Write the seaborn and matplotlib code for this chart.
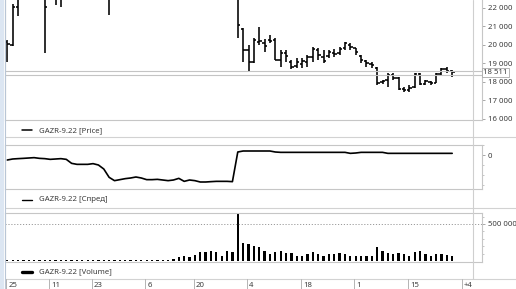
import numpy as np
import pandas as pd
import matplotlib
matplotlib.use("Agg")
import matplotlib.pyplot as plt
import seaborn as sns
from matplotlib.lines import Line2D
from matplotlib.patches import Rectangle
from matplotlib.ticker import FixedLocator, FuncFormatter, NullFormatter
import matplotlib.transforms as mtransforms

# ---------------- data ----------------
price_open = [20150, 20000, 22070, 22800, 23300, 23700, 23500, 23000, 22600, 23200,
              22800, 22700, 23100, 23500, 23800, 24000, 24400, 24600, 24700, 24300,
              22800, 23100, 23400, 23600, 23900, 24200, 24000, 23800, 24000, 24100,
              23900, 23800, 23500, 23700, 23400, 23300, 23100, 23000, 23300, 23500,
              23700, 23900, 24100, 24200, 20860, 19720, 19070, 20150, 20100, 20260,
              20260, 19180, 19560, 19070, 18850, 18960, 19070, 19340, 19720, 19340,
              19390, 19560, 19560, 19830, 19990, 19830, 19390, 19120, 18960, 18740,
              17970, 18090, 18360, 18200, 17600, 17550, 17710, 18420, 17880, 18000,
              17930, 18420, 18690, 18580]
price_high = [20260, 22200, 22900, 23500, 23900, 24200, 23800, 23300, 23400, 23600,
              23100, 23300, 23700, 24000, 24300, 24600, 24900, 25000, 25100, 24600,
              23300, 23600, 23800, 24100, 24400, 24500, 24300, 24200, 24400, 24300,
              24200, 24000, 23900, 24000, 23700, 23600, 23400, 23500, 23700, 23900,
              24100, 24300, 24500, 24300, 20900, 19990, 20370, 20960, 20320, 20530,
              20370, 19720, 19720, 19180, 19280, 19280, 19450, 19880, 19830, 19720,
              19720, 19770, 19880, 20150, 20100, 19830, 19450, 19180, 19070, 18800,
              18090, 18470, 18470, 18250, 17710, 17820, 18470, 18470, 18090, 18040,
              18470, 18740, 18800, 18630]
price_low = [19070, 19950, 21565, 22600, 22900, 23300, 22800, 19560, 22500, 22160,
             22050, 22550, 22900, 23200, 23500, 23800, 24100, 24300, 24300, 21620,
             22600, 22900, 23100, 23300, 23700, 23800, 23600, 23500, 23700, 23700,
             23600, 23300, 23200, 23300, 23000, 22900, 22700, 22800, 23000, 23200,
             23400, 23600, 23800, 20370, 19067, 18525, 19010, 19990, 19610, 20100,
             19170, 18800, 19070, 18690, 18740, 18740, 18800, 19070, 19180, 19010,
             19290, 19340, 19450, 19720, 19720, 19450, 19010, 18800, 18740, 17820,
             17870, 17710, 18090, 17550, 17440, 17440, 17660, 17820, 17820, 17820,
             17930, 18360, 18470, 18250]
price_close = [20040, 22070, 22700, 23300, 23700, 23500, 23000, 22050, 23200, 22800,
               22600, 23100, 23500, 23800, 24000, 24400, 24600, 24700, 24500, 22800,
               23100, 23400, 23600, 23900, 24200, 24000, 23800, 24000, 24100, 23900,
               23800, 23500, 23700, 23400, 23300, 23100, 23000, 23300, 23500, 23700,
               23900, 24100, 24300, 21080, 19720, 19070, 20260, 20210, 19940, 20210,
               19180, 19530, 19400, 18800, 19070, 19130, 19340, 19770, 19450, 19130,
               19610, 19500, 19770, 20100, 19880, 19610, 19180, 19010, 18900, 17920,
               18040, 18360, 18200, 17600, 17550, 17650, 18420, 17880, 18040, 17920,
               18420, 18690, 18580, 18511]

spread = [-1000, -800, -730, -670, -600, -530, -670, -730, -870, -800,
          -730, -870, -1670, -1870, -1870, -1870, -1730, -2000, -2800, -4470,
          -5130, -4930, -4730, -4600, -4400, -4600, -4930, -4930, -4870, -5000,
          -5130, -5000, -4670, -5270, -5000, -5130, -5400, -5400, -5330, -5270,
          -5270, -5270, -5330, 600, 800, 800, 800, 800, 800, 800,
          600, 530, 530, 530, 530, 530, 530, 530, 530, 530,
          530, 530, 530, 530, 330, 400, 530, 530, 530, 530,
          530, 330, 330, 330, 330, 330, 330, 330, 330, 330,
          330, 330, 330, 330]

volume = [12000, 9000, 15000, 11000, 8000, 10000, 13000, 9000, 12000, 10000,
          11000, 8000, 9000, 12000, 10000, 14000, 9000, 11000, 10000, 16000,
          12000, 10000, 9000, 11000, 13000, 10000, 12000, 11000, 14000, 13000,
          15000, 27000, 50000, 68000, 59000, 77000, 117000, 126000, 140000, 117000,
          63000, 131000, 115000, 644000, 239000, 230000, 207000, 194000, 140000, 99000,
          117000, 135000, 113000, 108000, 72000, 68000, 90000, 126000, 99000, 63000,
          90000, 90000, 113000, 90000, 72000, 63000, 72000, 68000, 68000, 185000,
          140000, 104000, 99000, 104000, 99000, 72000, 122000, 131000, 99000, 63000,
          99000, 99000, 77000, 72000]

date_tick_pos = [0, 8, 16, 26, 35, 45, 55, 65, 75, 85]
date_tick_labels = ["25", "11", "23", "6", "20", "4", "18", "1", "15", "+4"]

price_ticks = [16000, 17000, 18000, 19000, 20000, 21000, 22000]
spread_ticks = [0]
volume_ticks = [500000]

series_name = "GAZR-9.22"
panel_names = ["Price", "Спред", "Volume"]

# ---------------- style ----------------
sns.set_theme(style="white")
plt.rcParams['font.family'] = ['Noto Sans', 'DejaVu Sans']

W, H = 516, 289
fig = plt.figure(figsize=(W / 100, H / 100), dpi=100)
fig.patch.set_facecolor("white")

FRAME = "#c6c6c6"
SEP = "#d2d2d2"
LBL = "#3c3c3c"
FS = 5.6

def axes_px(top, bottom, left=5, right=482):
    return fig.add_axes([left / W, 1 - bottom / H, (right - left) / W, (bottom - top) / H])

# bar index -> pixel: x = 7.3 + 5.36 * i
X0, DX = 7.3, 5.36
xlim = ((5 - X0) / DX, (482 - X0) / DX)

n = len(price_close)
idx = np.arange(n)

def style_axes(ax, top_visible=True):
    ax.set_facecolor("white")
    for side, sp in ax.spines.items():
        sp.set_color(FRAME)
        sp.set_linewidth(0.8)
    ax.spines["top"].set_visible(top_visible)
    ax.set_xlim(*xlim)
    ax.set_xticks([])
    ax.set_xlabel("")
    ax.set_ylabel("")
    ax.yaxis.tick_right()
    ax.tick_params(axis="y", which="major", length=2.3, width=0.6, color="#9a9a9a",
                   pad=2.0, labelsize=FS, labelcolor=LBL)
    ax.tick_params(axis="y", which="minor", length=1.6, width=0.5, color="#b0b0b0")
    ax.grid(False)

space_fmt = FuncFormatter(lambda v, p: f"{v:,.0f}".replace(",", " "))

# ---------- price panel ----------
def py2price(y):
    return 16000 + (118.5 - y) / 18.42 * 1000

ax_p = axes_px(-25, 120)
style_axes(ax_p, top_visible=False)
ax_p.set_ylim(py2price(120), py2price(-25))
ax_p.vlines(idx, price_low, price_high, color="black", lw=1.15)
ax_p.hlines(price_open, idx - 0.45, idx, color="black", lw=1.15)
ax_p.hlines(price_close, idx, idx + 0.45, color="black", lw=1.15)
ax_p.yaxis.set_major_locator(FixedLocator(price_ticks))
ax_p.yaxis.set_major_formatter(space_fmt)
# current price band
last = price_close[-1]
ax_p.axhline(last + 68, color="#c4c4c4", lw=0.8)
ax_p.axhline(last - 135, color="#c4c4c4", lw=0.8)
ax_p.text(1.003, last - 30, f"{last:,.0f}".replace(",", " "), transform=ax_p.get_yaxis_transform(),
          fontsize=FS, color=LBL, ha="left", va="center", zorder=10, clip_on=False,
          bbox=dict(boxstyle="square,pad=0.12", fc="white", ec="#a8a8a8", lw=0.6))

# ---------- spread panel ----------
def sy2val(y):
    return (155 - y) * 200

ax_s = axes_px(144.5, 189)
sns.lineplot(x=idx, y=spread, ax=ax_s, color="black", lw=1.2)
style_axes(ax_s)
ax_s.set_ylim(sy2val(189), sy2val(144.5))
ax_s.yaxis.set_major_locator(FixedLocator(spread_ticks))
ax_s.yaxis.set_major_formatter(space_fmt)
ax_s.yaxis.set_minor_locator(FixedLocator([2000, -2000, -4000, -6000]))
ax_s.yaxis.set_minor_formatter(NullFormatter())

# ---------- volume panel ----------
VPX = 500000 / 37.0
ax_v = axes_px(213, 262)
vol_df = pd.DataFrame({"i": idx, "v": volume})
sns.barplot(data=vol_df, x="i", y="v", ax=ax_v, native_scale=True, orient="x",
            errorbar=None, color="black", saturation=1, width=0.42, linewidth=0)
style_axes(ax_v)
ax_v.set_ylim(-1 * VPX, 48 * VPX)
ax_v.axhline(volume_ticks[0], color="#9a9a9a", lw=0.7, ls=(0, (1.2, 1.8)))
ax_v.yaxis.set_major_locator(FixedLocator(volume_ticks))
ax_v.yaxis.set_major_formatter(space_fmt)
ax_v.yaxis.set_minor_locator(FixedLocator([100000, 200000, 300000, 400000, 600000]))
ax_v.yaxis.set_minor_formatter(NullFormatter())

# ---------- figure decorations ----------
def hline_px(y, x0=5, x1=W, color=SEP, lw=0.8):
    fig.add_artist(Line2D([x0 / W, x1 / W], [1 - y / H, 1 - y / H], color=color, lw=lw))

def vline_px(x, y0, y1, color=SEP, lw=0.8):
    fig.add_artist(Line2D([x / W, x / W], [1 - y0 / H, 1 - y1 / H], color=color, lw=lw))

hline_px(137)
hline_px(208)
hline_px(278.5)
vline_px(472.5, 0, 278.5, color="#cfcfcf")

# legends
legend_y = [130.5, 199.5, 271.5]
legend_lw = [1.1, 1.0, 2.4]
for name, ly, lw in zip(panel_names, legend_y, legend_lw):
    fig.add_artist(Line2D([21.5 / W, 31.5 / W], [1 - ly / H] * 2, color="black", lw=lw))
    fig.text(39 / W, 1 - ly / H, f"{series_name} [{name}]", fontsize=FS, color=LBL,
             ha="left", va="center")

# date axis
blend = mtransforms.blended_transform_factory(ax_v.transData, fig.transFigure)
for pos, lab in zip(date_tick_pos, date_tick_labels):
    sep = pos - 0.24
    fig.add_artist(Line2D([sep, sep], [1 - 279 / H, 0], color="#b4b4b4", lw=0.7, transform=blend))
    fig.text(sep + 0.4, 1 - 288.8 / H, lab, transform=blend, fontsize=FS, color=LBL,
             ha="left", va="bottom")

# left window strip
fig.patches.append(Rectangle((0, 0), 4.2 / W, 1, transform=fig.transFigure,
                             fc="#dce6f2", ec="none", zorder=0))
vline_px(4.6, 0, H, color="#b9c6d6", lw=0.8)

fig.savefig("out.png", dpi=100, facecolor="white")
